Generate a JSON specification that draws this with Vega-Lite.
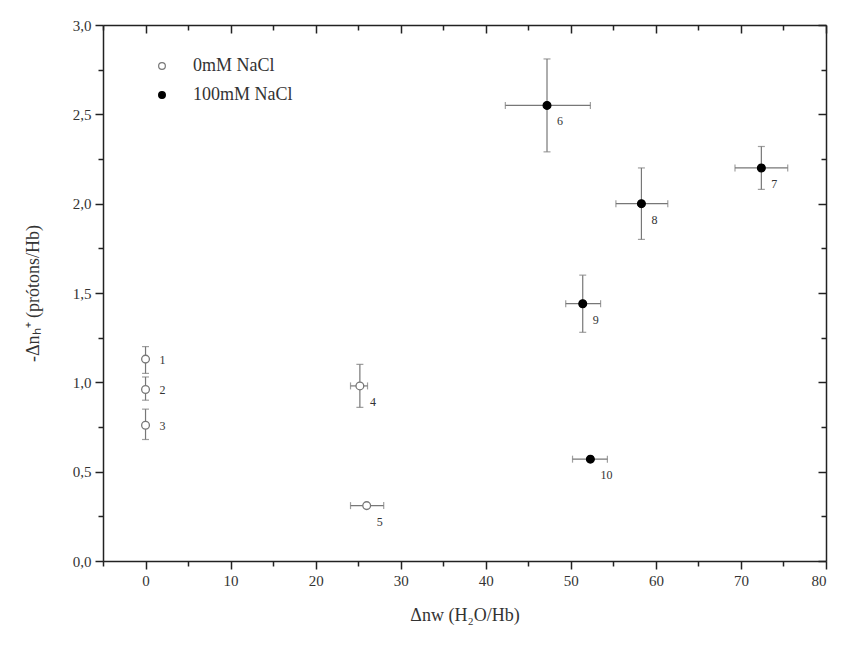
{
  "$schema": "https://vega.github.io/schema/vega-lite/v6.json",
  "width": 723,
  "height": 536,
  "autosize": {"type": "none"},
  "padding": {"left": 103, "top": 25, "right": 19, "bottom": 84},
  "background": "white",
  "config": {
    "view": {"stroke": null},
    "font": "Liberation Serif, Times New Roman, serif",
    "style": {
      "guide-label": {"font": "Liberation Serif, Times New Roman, serif"},
      "guide-title": {"font": "Liberation Serif, Times New Roman, serif"}
    },
    "axis": {
      "domainColor": "#222",
      "domainWidth": 1.5,
      "tickColor": "#222",
      "tickWidth": 1.5,
      "grid": false,
      "labelFont": "Liberation Serif, Times New Roman, serif",
      "labelFontSize": 15,
      "labelColor": "#333",
      "titleFont": "Liberation Serif, Times New Roman, serif",
      "titleFontSize": 18,
      "titleFontWeight": "normal",
      "titleColor": "#333"
    }
  },
  "data": {
    "values": [
      {"id": "1", "group": "0mM NaCl", "x": 0, "y": 1.13, "xlo": 0, "xhi": 0, "ylo": 1.05, "yhi": 1.2},
      {"id": "2", "group": "0mM NaCl", "x": 0, "y": 0.96, "xlo": 0, "xhi": 0, "ylo": 0.9, "yhi": 1.03},
      {"id": "3", "group": "0mM NaCl", "x": 0, "y": 0.76, "xlo": 0, "xhi": 0, "ylo": 0.68, "yhi": 0.85},
      {"id": "4", "group": "0mM NaCl", "x": 25.2, "y": 0.98, "xlo": 24.1, "xhi": 26.1, "ylo": 0.86, "yhi": 1.1},
      {"id": "5", "group": "0mM NaCl", "x": 26, "y": 0.31, "xlo": 24.1, "xhi": 28, "ylo": 0.3, "yhi": 0.32},
      {"id": "6", "group": "100mM NaCl", "x": 47.2, "y": 2.55, "xlo": 42.3, "xhi": 52.3, "ylo": 2.29, "yhi": 2.81},
      {"id": "7", "group": "100mM NaCl", "x": 72.4, "y": 2.2, "xlo": 69.3, "xhi": 75.5, "ylo": 2.08, "yhi": 2.32},
      {"id": "8", "group": "100mM NaCl", "x": 58.3, "y": 2.0, "xlo": 55.3, "xhi": 61.4, "ylo": 1.8, "yhi": 2.2},
      {"id": "9", "group": "100mM NaCl", "x": 51.4, "y": 1.44, "xlo": 49.4, "xhi": 53.5, "ylo": 1.28, "yhi": 1.6},
      {"id": "10", "group": "100mM NaCl", "x": 52.3, "y": 0.57, "xlo": 50.2, "xhi": 54.3, "ylo": 0.565, "yhi": 0.575}
    ]
  },
  "resolve": {"axis": {"x": "independent", "y": "independent"}},
  "layer": [
    {
      "mark": {"type": "errorbar", "ticks": {"size": 7, "color": "#777"}, "color": "#777", "thickness": 1.2},
      "encoding": {
        "y": {"field": "ylo", "type": "quantitative", "scale": {"domain": [0, 3], "nice": false, "zero": false},
          "axis": {"orient": "left", "title": "-Δnₕ⁺ (prótons/Hb)", "titlePadding": 30,
            "labelFont": "Liberation Serif, Times New Roman, serif", "titleFont": "Liberation Serif, Times New Roman, serif", "labelFontSize": 15, "titleFontSize": 18,
            "values": [0, 0.25, 0.5, 0.75, 1, 1.25, 1.5, 1.75, 2, 2.25, 2.5, 2.75, 3],
            "labelExpr": "round(datum.value*4) % 2 === 0 ? replace(format(datum.value, '.1f'), '.', ',') : ''",
            "tickSize": {"expr": "round(datum.value*4) % 2 === 0 ? 8 : 5"},
            "labelPadding": 4}},
        "y2": {"field": "yhi"},
        "x": {"field": "x", "type": "quantitative", "scale": {"domain": [-5, 80], "nice": false, "zero": false},
          "axis": {"orient": "bottom", "title": "Δnw (H₂O/Hb)", "titlePadding": 18,
            "labelFont": "Liberation Serif, Times New Roman, serif", "titleFont": "Liberation Serif, Times New Roman, serif", "labelFontSize": 15, "titleFontSize": 18,
            "values": [-5, 0, 5, 10, 15, 20, 25, 30, 35, 40, 45, 50, 55, 60, 65, 70, 75, 80],
            "labelExpr": "datum.value % 10 === 0 ? format(datum.value, 'd') : ''",
            "tickSize": {"expr": "datum.value % 10 === 0 ? 8 : 5"},
            "labelPadding": 4}}
      }
    },
    {
      "transform": [{"filter": "datum.xhi > datum.xlo"}],
      "mark": {"type": "errorbar", "ticks": {"size": 7, "color": "#777"}, "color": "#777", "thickness": 1.2},
      "encoding": {
        "x": {"field": "xlo", "type": "quantitative", "scale": {"domain": [-5, 80]},
          "axis": {"orient": "top", "title": null, "labels": false,
            "values": [-5, 0, 5, 10, 15, 20, 25, 30, 35, 40, 45, 50, 55, 60, 65, 70, 75, 80],
            "tickSize": {"expr": "datum.value % 10 === 0 ? -8 : -5"}}},
        "x2": {"field": "xhi"},
        "y": {"field": "y", "type": "quantitative", "scale": {"domain": [0, 3]},
          "axis": {"orient": "right", "title": null, "labels": false,
            "values": [0, 0.25, 0.5, 0.75, 1, 1.25, 1.5, 1.75, 2, 2.25, 2.5, 2.75, 3],
            "tickSize": {"expr": "round(datum.value*4) % 2 === 0 ? -8 : -5"}}}
      }
    },
    {
      "mark": {"type": "point", "filled": false, "size": 60, "strokeWidth": 1.3, "opacity": 1},
      "encoding": {
        "x": {"field": "x", "type": "quantitative", "axis": null},
        "y": {"field": "y", "type": "quantitative", "axis": null},
        "fill": {"field": "group", "type": "nominal",
          "scale": {"domain": ["0mM NaCl", "100mM NaCl"], "range": ["white", "black"]},
          "legend": {"orient": "none", "legendX": 50, "legendY": 32, "title": null,
            "labelFont": "Liberation Serif, Times New Roman, serif", "labelFontSize": 18, "labelColor": "#333",
            "symbolSize": 45, "rowPadding": 11, "labelOffset": 22, "symbolStrokeWidth": 1.2}},
        "stroke": {"field": "group", "type": "nominal",
          "scale": {"domain": ["0mM NaCl", "100mM NaCl"], "range": ["#777", "black"]}}
      }
    },
    {
      "transform": [{"filter": "toNumber(datum.id) <= 3"}],
      "mark": {"type": "text", "dx": 14, "dy": 1, "align": "left", "baseline": "middle", "fontSize": 12, "font": "Liberation Serif, Times New Roman, serif", "color": "#333"},
      "encoding": {
        "x": {"field": "x", "type": "quantitative", "axis": null},
        "y": {"field": "y", "type": "quantitative", "axis": null},
        "text": {"field": "id"}
      }
    },
    {
      "transform": [{"filter": "toNumber(datum.id) > 3"}],
      "mark": {"type": "text", "dx": 10, "dy": 16, "align": "left", "baseline": "middle", "fontSize": 12, "font": "Liberation Serif, Times New Roman, serif", "color": "#333"},
      "encoding": {
        "x": {"field": "x", "type": "quantitative", "axis": null},
        "y": {"field": "y", "type": "quantitative", "axis": null},
        "text": {"field": "id"}
      }
    }
  ]
}
